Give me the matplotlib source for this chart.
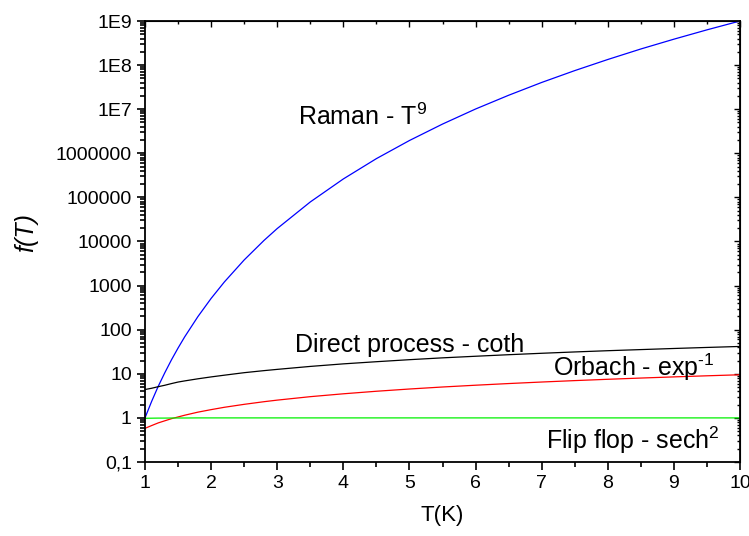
import numpy as np
import matplotlib
matplotlib.use("Agg")
import matplotlib.pyplot as plt
from matplotlib.ticker import FixedLocator, FixedFormatter, LogLocator, NullFormatter, MultipleLocator

plt.rcParams['font.family'] = ['Liberation Sans', 'DejaVu Sans']
plt.rcParams['mathtext.fontset'] = 'custom'
plt.rcParams['mathtext.rm'] = 'Liberation Sans'
plt.rcParams['mathtext.it'] = 'Liberation Sans:italic'

# ------------------------------------------------------------
# values
# ------------------------------------------------------------
T = [1.0, 1.1, 1.2, 1.3, 1.4, 1.5, 1.6, 1.8, 2.0, 2.2, 2.5, 2.8, 3.0,
     3.5, 4.0, 4.5, 5.0, 5.5, 6.0, 6.5, 7.0, 7.5, 8.0, 8.5, 9.0, 9.5, 10.0]
raman = [1.0, 2.36, 5.2, 10.6, 20.7, 38.4, 68.7, 198, 512, 1207, 3815,
         10578, 19683, 78815, 262144, 7.57e5, 1.95e6, 4.6e6, 1.01e7,
         2.07e7, 4.04e7, 7.5e7, 1.34e8, 2.32e8, 3.87e8, 6.3e8, 1.0e9]
direct = [4.4, 4.7, 5.1, 5.5, 6.0, 6.5, 6.9, 7.7, 8.5, 9.3, 10.6, 11.8,
          12.6, 14.7, 16.8, 18.8, 20.9, 23.0, 25.0, 27.1, 29.2, 31.3,
          33.4, 35.4, 37.5, 39.6, 41.7]
orbach = [0.58, 0.67, 0.77, 0.86, 0.96, 1.05, 1.15, 1.35, 1.54, 1.74,
          2.03, 2.33, 2.53, 3.03, 3.52, 4.02, 4.52, 5.02, 5.51, 6.01,
          6.51, 7.01, 7.51, 8.01, 8.51, 9.01, 9.51]
flipflop = [0.98, 0.985, 0.99, 0.99, 0.995, 0.995, 0.995, 1.0, 1.0, 1.0,
            1.0, 1.0, 1.0, 1.0, 1.0, 1.0, 1.0, 1.0, 1.0, 1.0, 1.0, 1.0,
            1.0, 1.0, 1.0, 1.0, 1.0]

ytick_vals = [0.1, 1, 10, 100, 1000, 1e4, 1e5, 1e6, 1e7, 1e8, 1e9]
ytick_labels = ["0,1", "1", "10", "100", "1000", "10000", "100000",
                "1000000", "1E7", "1E8", "1E9"]

fig = plt.figure(figsize=(7.49, 5.36), dpi=100)
ax = fig.add_axes([145/749, 1 - 462/536, 595/749, 441/536])

ax.plot(T, raman, color='blue', lw=0.9)
ax.plot(T, direct, color='black', lw=0.9)
ax.plot(T, orbach, color='red', lw=0.9)
ax.plot(T, flipflop, color='#00f000', lw=0.9)

ax.set_yscale('log')
ax.set_xlim(1, 10)
ax.set_ylim(0.1, 1e9)

ax.xaxis.set_major_locator(MultipleLocator(1))
ax.xaxis.set_minor_locator(MultipleLocator(0.5))
ax.yaxis.set_major_locator(FixedLocator(ytick_vals))
ax.yaxis.set_major_formatter(FixedFormatter(ytick_labels))
ax.yaxis.set_minor_locator(LogLocator(base=10, subs=np.arange(2, 10), numticks=20))
ax.yaxis.set_minor_formatter(NullFormatter())

ax.tick_params(which='both', direction='out', labelsize=14, width=1.2)
ax.tick_params(which='major', length=6)
ax.tick_params(which='minor', length=3.5)
ax.tick_params(axis='x', pad=3)
for s in ax.spines.values():
    s.set_linewidth(1.3)

# mirrored inward ticks on top/right
ax_t = ax.secondary_xaxis('top')
ax_t.xaxis.set_major_locator(MultipleLocator(1))
ax_t.xaxis.set_minor_locator(MultipleLocator(0.5))
ax_t.tick_params(which='both', direction='in', labeltop=False, width=1.0)
ax_t.tick_params(which='major', length=4)
ax_t.tick_params(which='minor', length=2.5)
ax_r = ax.secondary_yaxis('right')
ax_r.yaxis.set_major_locator(FixedLocator(ytick_vals))
ax_r.yaxis.set_minor_locator(LogLocator(base=10, subs=np.arange(2, 10), numticks=20))
ax_r.yaxis.set_minor_formatter(NullFormatter())
ax_r.tick_params(which='both', direction='in', labelright=False, width=1.0)
ax_r.tick_params(which='major', length=4)
ax_r.tick_params(which='minor', length=2.5)

ax.set_xlabel("T(K)", fontsize=16, labelpad=10)
ax.set_ylabel("f(T)", fontsize=18, style='italic')
ax.yaxis.set_label_coords(-0.18, 0.52)

ax.text(3.31, 10**6.82, r"Raman - T$^{9}$", fontsize=18, va='center', ha='left')
ax.text(3.27, 10**1.65, "Direct process - coth", fontsize=18, va='center', ha='left')
ax.text(9.62, 10**1.15, r"Orbach - exp$^{\text{-1}}$", fontsize=18, va='center', ha='right')
ax.text(9.70, 10**-0.5, r"Flip flop - sech$^{2}$", fontsize=18, va='center', ha='right')

fig.savefig("out.png", dpi=100)
